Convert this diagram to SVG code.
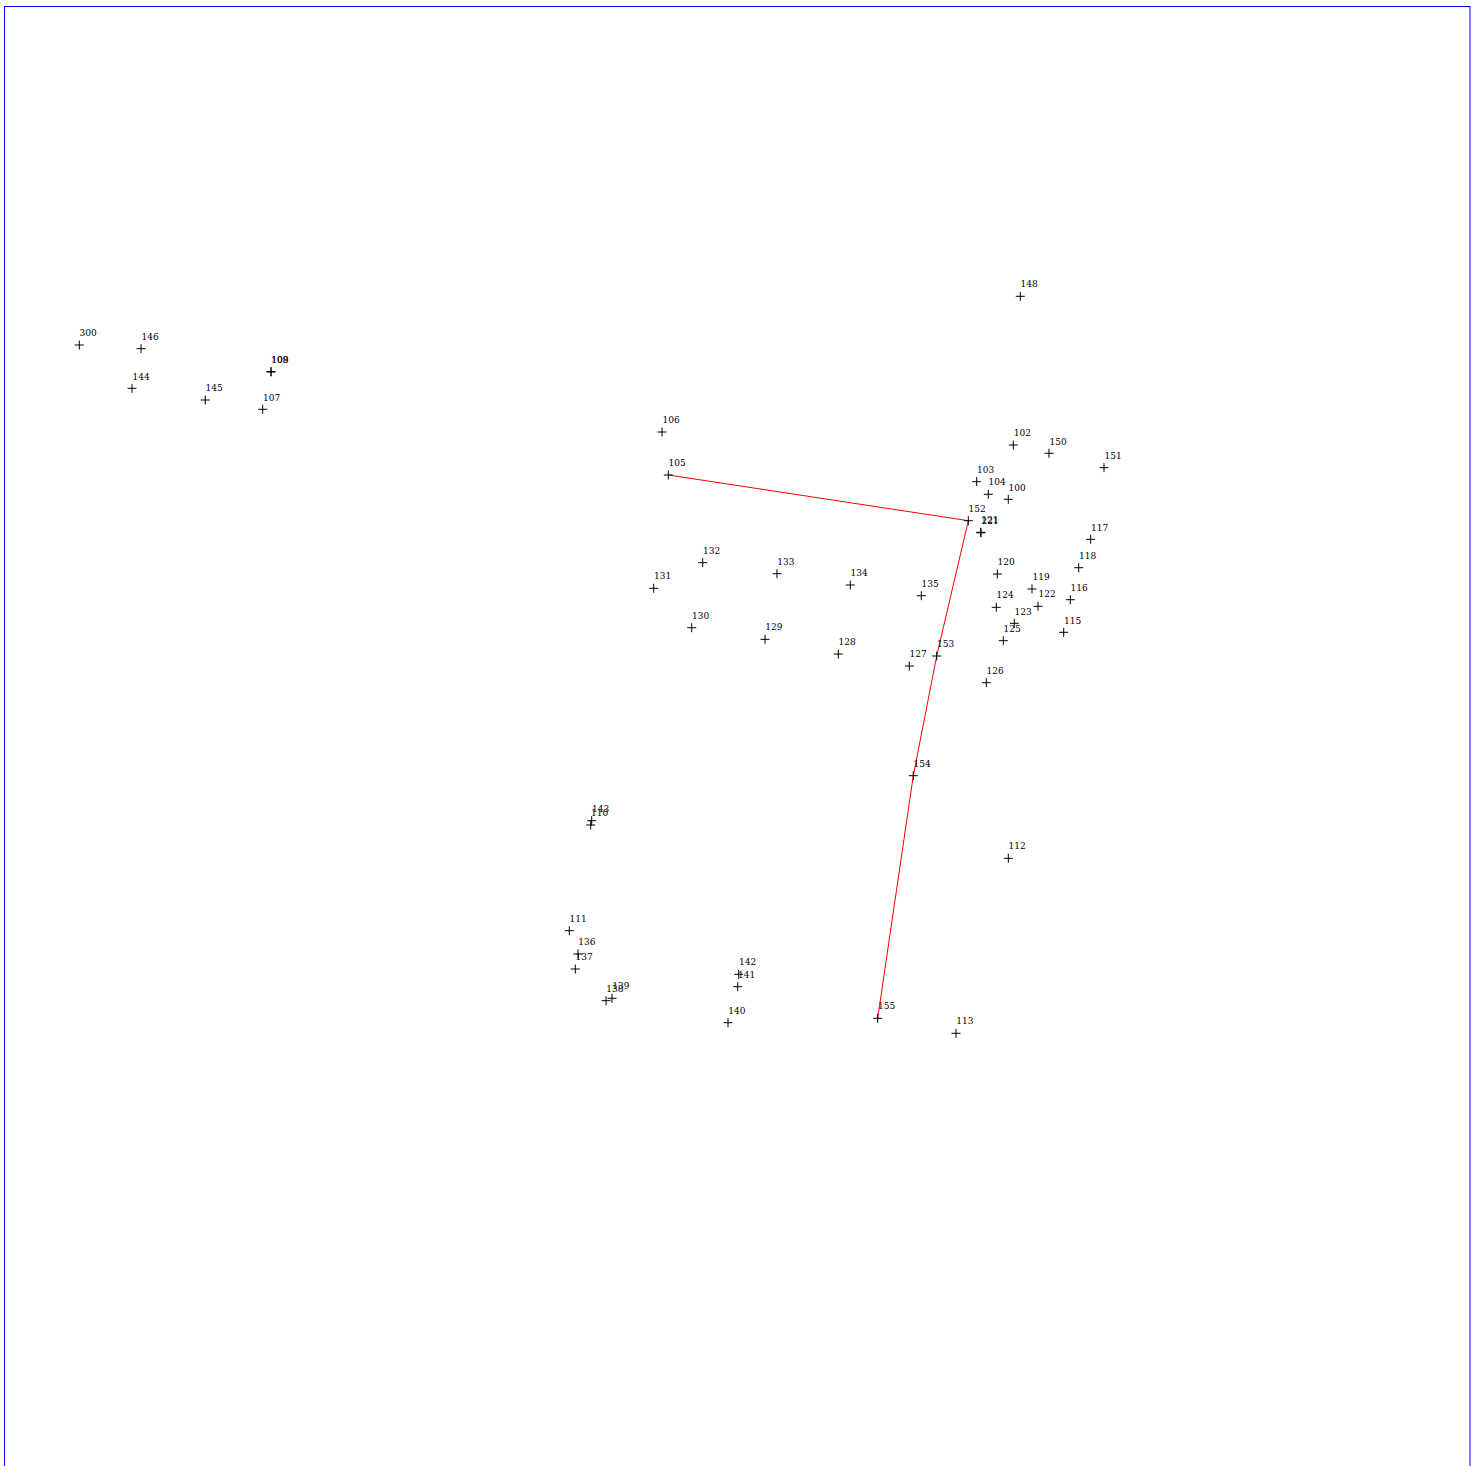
<svg xmlns="http://www.w3.org/2000/svg" width="1477" height="1466" viewBox="0 0 1477 1466">
<defs>
<style>
.c{stroke:#000;stroke-width:1;fill:none}
.t{font-family:"DejaVu Serif","Liberation Serif",serif;font-size:9px;fill:#000}
.edge{stroke:#ff0000;stroke-width:1;fill:none}
</style>
<path id="x" class="c" d="M-4.5,0H4.5M0,-4.5V4.5"/>
</defs>
<rect x="4.5" y="6.5" width="1465.5" height="1500" fill="#fff" stroke="#0000ff" stroke-width="1"/>
<g id="connectors">
<polyline class="edge" points="668.3,475 968.3,520.7 936.7,656 913.3,775.7 877.7,1018.3"/>
</g>
<g id="n300"><use href="#x" x="79.3" y="345"/><text class="t" x="79.5" y="336">300</text></g>
<g id="n146"><use href="#x" x="141" y="348.7"/><text class="t" x="141.5" y="340">146</text></g>
<g id="n144"><use href="#x" x="132" y="388.3"/><text class="t" x="132.5" y="379.5">144</text></g>
<g id="n145"><use href="#x" x="205.3" y="400"/><text class="t" x="205.5" y="391">145</text></g>
<g id="n107"><use href="#x" x="262.7" y="409.3"/><text class="t" x="263" y="400.5">107</text></g>
<g id="n108"><use href="#x" x="271" y="371.5"/><text class="t" x="271.3" y="362.5">108</text></g>
<g id="n109"><use href="#x" x="271" y="372"/><text class="t" x="271.3" y="363">109</text></g>
<g id="n106"><use href="#x" x="662" y="432"/><text class="t" x="662.5" y="423">106</text></g>
<g id="n105"><use href="#x" x="668.3" y="475"/><text class="t" x="668.5" y="466">105</text></g>
<g id="n148"><use href="#x" x="1020.3" y="296.3"/><text class="t" x="1020.5" y="287.3">148</text></g>
<g id="n102"><use href="#x" x="1013.3" y="445"/><text class="t" x="1013.8" y="436">102</text></g>
<g id="n150"><use href="#x" x="1049" y="453.3"/><text class="t" x="1049.5" y="444.5">150</text></g>
<g id="n151"><use href="#x" x="1104" y="467.7"/><text class="t" x="1104.5" y="458.7">151</text></g>
<g id="n103"><use href="#x" x="976.7" y="481.7"/><text class="t" x="977" y="472.7">103</text></g>
<g id="n104"><use href="#x" x="988.3" y="494.3"/><text class="t" x="988.5" y="485.3">104</text></g>
<g id="n100"><use href="#x" x="1008.3" y="499.3"/><text class="t" x="1008.5" y="490.5">100</text></g>
<g id="n152"><use href="#x" x="968.3" y="520.7"/><text class="t" x="968.5" y="512">152</text></g>
<g id="n121"><use href="#x" x="980.7" y="532.3"/><text class="t" x="981.2" y="523.3">121</text></g>
<g id="n221"><use href="#x" x="981" y="532.8"/><text class="t" x="981.5" y="523.6">221</text></g>
<g id="n117"><use href="#x" x="1090.7" y="539.3"/><text class="t" x="1091" y="530.5">117</text></g>
<g id="n118"><use href="#x" x="1078.7" y="567.7"/><text class="t" x="1079" y="558.7">118</text></g>
<g id="n120"><use href="#x" x="997.3" y="574"/><text class="t" x="997.5" y="565">120</text></g>
<g id="n119"><use href="#x" x="1032" y="589"/><text class="t" x="1032.5" y="580">119</text></g>
<g id="n116"><use href="#x" x="1070.3" y="599.7"/><text class="t" x="1070.5" y="590.7">116</text></g>
<g id="n122"><use href="#x" x="1038" y="606.3"/><text class="t" x="1038.5" y="597.3">122</text></g>
<g id="n124"><use href="#x" x="996.3" y="607.3"/><text class="t" x="996.5" y="598.3">124</text></g>
<g id="n123"><use href="#x" x="1014.3" y="623.3"/><text class="t" x="1014.5" y="614.5">123</text></g>
<g id="n125"><use href="#x" x="1003.3" y="640.7"/><text class="t" x="1003.5" y="631.7">125</text></g>
<g id="n115"><use href="#x" x="1063.7" y="632.3"/><text class="t" x="1064" y="623.5">115</text></g>
<g id="n126"><use href="#x" x="986.3" y="682.7"/><text class="t" x="986.5" y="673.7">126</text></g>
<g id="n132"><use href="#x" x="702.7" y="562.7"/><text class="t" x="703" y="553.7">132</text></g>
<g id="n133"><use href="#x" x="777" y="573.7"/><text class="t" x="777.3" y="564.7">133</text></g>
<g id="n134"><use href="#x" x="850.3" y="585"/><text class="t" x="850.5" y="576">134</text></g>
<g id="n131"><use href="#x" x="653.7" y="588.3"/><text class="t" x="654" y="579.3">131</text></g>
<g id="n135"><use href="#x" x="921.3" y="595.7"/><text class="t" x="921.5" y="586.7">135</text></g>
<g id="n130"><use href="#x" x="691.7" y="627.7"/><text class="t" x="692" y="618.7">130</text></g>
<g id="n129"><use href="#x" x="765" y="639.3"/><text class="t" x="765.3" y="630.3">129</text></g>
<g id="n128"><use href="#x" x="838.3" y="654"/><text class="t" x="838.5" y="645">128</text></g>
<g id="n127"><use href="#x" x="909.3" y="666"/><text class="t" x="909.5" y="657">127</text></g>
<g id="n153"><use href="#x" x="936.7" y="656"/><text class="t" x="937" y="647">153</text></g>
<g id="n154"><use href="#x" x="913.3" y="775.7"/><text class="t" x="913.5" y="766.7">154</text></g>
<g id="n112"><use href="#x" x="1008.3" y="858.3"/><text class="t" x="1008.5" y="849.3">112</text></g>
<g id="n143"><use href="#x" x="591.7" y="820.7"/><text class="t" x="592" y="811.7">143</text></g>
<g id="n110"><use href="#x" x="590.7" y="825"/><text class="t" x="591" y="816.3">110</text></g>
<g id="n111"><use href="#x" x="569.3" y="930.7"/><text class="t" x="569.5" y="921.7">111</text></g>
<g id="n136"><use href="#x" x="578" y="954"/><text class="t" x="578.3" y="945">136</text></g>
<g id="n137"><use href="#x" x="575.3" y="969"/><text class="t" x="575.5" y="960">137</text></g>
<g id="n138"><use href="#x" x="606" y="1000.7"/><text class="t" x="606.3" y="991.7">138</text></g>
<g id="n139"><use href="#x" x="612" y="998.3"/><text class="t" x="612.3" y="989.3">139</text></g>
<g id="n142"><use href="#x" x="738.7" y="974.3"/><text class="t" x="739" y="965.3">142</text></g>
<g id="n141"><use href="#x" x="737.7" y="986.7"/><text class="t" x="738" y="977.7">141</text></g>
<g id="n140"><use href="#x" x="728" y="1022.7"/><text class="t" x="728.3" y="1013.7">140</text></g>
<g id="n155"><use href="#x" x="877.7" y="1018.3"/><text class="t" x="878" y="1009.3">155</text></g>
<g id="n113"><use href="#x" x="956" y="1033.3"/><text class="t" x="956.3" y="1024.3">113</text></g>
</svg>
